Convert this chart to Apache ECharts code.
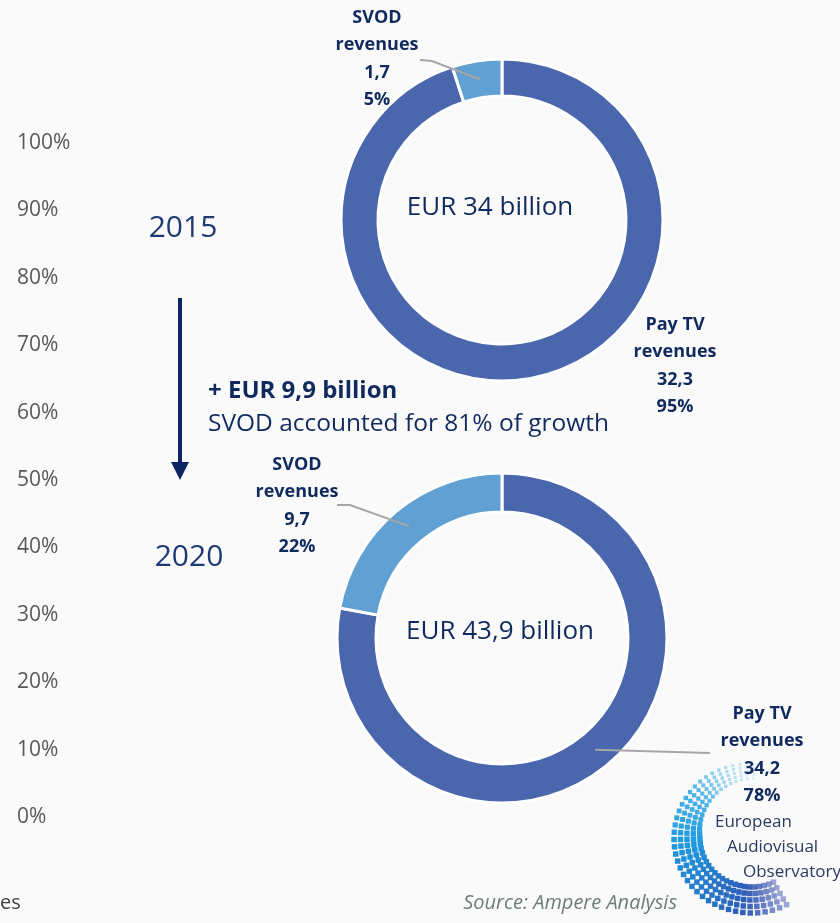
<!DOCTYPE html>
<html>
<head>
<meta charset="utf-8">
<script src="https://cdn.jsdelivr.net/npm/echarts@6/dist/echarts.min.js"></script>
<style>
  html, body { margin: 0; background: #fafafa; }
  #main { width: 840px; height: 923px; }
</style>
</head>
<body>
<div id="main"></div>
<script>
// data
const categories = ['Pay TV\nrevenues', 'SVOD\nrevenues']
const revenues2015 = [32.3, 1.7]
const revenues2020 = [34.2, 9.7]
const totals = ['EUR 34 billion', 'EUR 43,9 billion']
const years = ['2015', '2020']
const axisMin = 0
const axisMax = 100
const axisStep = 10
const growthTitle = '+ EUR 9,9 billion'
const growthNote = 'SVOD accounted for 81% of growth'
const sourceNote = 'Source: Ampere Analysis'
const logoLines = ['European', 'Audiovisual', 'Observatory']

// layout (kept apart from the data)
const pieCenters = [[502, 220], [502, 638]]
const pieRadii = [[124, 161], [126, 165]]
// label anchor [x, topY] per pie, per category
const labelPos = [
  [[675, 311], [377, 4]],
  [[762, 700], [297, 451]]
]
// leader line start points (null = no line)
const leaderStart = [
  [null, [[420, 60], [432, 61]]],
  [[[710, 753]], [[337, 505], [350, 505]]]
]

const navy = '#102a5e'
const payColor = '#4a67ad'
const svodColor = '#60a0d3'
const fontFamily = '"Open Sans", sans-serif'

const fmtNum = (v) => String(v).replace('.', ',')

// point inside a slice: mid angle, mid ring
function slicePoint(values, idx, center, radius) {
  const total = values.reduce((a, b) => a + b, 0)
  let before = 0
  for (let i = 0; i < idx; i++) before += values[i]
  const mid = before + values[idx] / 2
  const ang = (90 - (mid / total) * 360) * Math.PI / 180
  const r = (radius[0] + radius[1]) / 2
  return [center[0] + r * Math.cos(ang), center[1] - r * Math.sin(ang)]
}

function pieSeries(values, k) {
  return {
    type: 'pie',
    center: pieCenters[k],
    radius: pieRadii[k],
    startAngle: 90,
    clockwise: true,
    silent: true,
    animation: false,
    avoidLabelOverlap: false,
    percentPrecision: 0,
    z: 5,
    itemStyle: { borderColor: '#ffffff', borderWidth: 3 },
    label: {
      show: true,
      position: 'outside',
      color: navy,
      fontFamily: fontFamily,
      fontWeight: 'bold',
      fontSize: 18,
      lineHeight: 27.5,
      align: 'center',
      formatter: (p) => p.name + '\n' + fmtNum(p.value) + '\n' + Math.round(p.percent) + '%'
    },
    labelLine: { show: false },
    labelLayout: (params) => {
      const pos = labelPos[k][params.dataIndex]
      return { x: pos[0], y: pos[1], align: 'center', verticalAlign: 'top' }
    },
    data: values.map((v, i) => ({
      name: categories[i],
      value: v,
      itemStyle: { color: i === 0 ? payColor : svodColor }
    }))
  }
}

// leader lines from label to the middle of the slice
const leaders = []
;[revenues2015, revenues2020].forEach((values, k) => {
  values.forEach((v, i) => {
    const start = leaderStart[k][i]
    if (!start) return
    const end = slicePoint(values, i, pieCenters[k], pieRadii[k])
    leaders.push({
      type: 'polyline',
      silent: true,
      z: 10,
      shape: { points: start.concat([end]) },
      style: { stroke: '#a6a6a6', lineWidth: 2, fill: null }
    })
  })
})

// logo arc of little squares (decoration)
const logoDots = []
const lc = [748, 838]
const steps = 38
for (let row = 0; row < 5; row++) {
  for (let s = 0; s <= steps; s++) {
    const t = s / steps
    const phi = (275 - t * 215) * Math.PI / 180
    const grow = Math.min(1, t / 0.44)
    const spacing = 3.5 + 3 * grow
    const r = 74 - row * spacing - (t > 0.8 ? (t - 0.8) * -15 : 0)
    const x = lc[0] + r * Math.cos(phi)
    const y = lc[1] + r * Math.sin(phi)
    const col = t < 0.45
      ? echarts.color.lerp(t / 0.45, ['#8fd3f3', '#1e9be0'])
      : echarts.color.lerp((t - 0.45) / 0.55, ['#1e9be0', '#3346a8'])
    const sz = spacing - 1
    const fade = Math.min(1, t * 4, (1 - t) * 5 + 0.25)
    logoDots.push({
      type: 'rect',
      silent: true,
      z: 1,
      shape: { x: x - sz / 2, y: y - sz / 2, width: sz, height: sz },
      style: { fill: col, opacity: 0.3 + 0.7 * fade }
    })
  }
}

const chart = echarts.init(document.getElementById('main'), null, { renderer: 'canvas' })

chart.setOption({
  backgroundColor: '#fafafa',
  animation: false,
  grid: { left: 80, right: 700, top: 143, bottom: 106 },
  xAxis: { type: 'value', show: false, min: 0, max: 1 },
  yAxis: {
    type: 'value',
    min: axisMin,
    max: axisMax,
    interval: axisStep,
    axisLine: { show: false },
    axisTick: { show: false },
    splitLine: { show: false },
    axisLabel: {
      align: 'left',
      margin: 63,
      color: '#595959',
      fontFamily: fontFamily,
      fontSize: 21,
      formatter: '{value}%'
    }
  },
  series: [pieSeries(revenues2015, 0), pieSeries(revenues2020, 1)],
  graphic: [
    ...leaders,
    // totals in the rings
    {
      type: 'text', silent: true, x: 490, y: 208,
      style: { text: totals[0], fill: navy, font: '26px ' + fontFamily, align: 'center', verticalAlign: 'middle' }
    },
    {
      type: 'text', silent: true, x: 500, y: 632,
      style: { text: totals[1], fill: navy, font: '26px ' + fontFamily, align: 'center', verticalAlign: 'middle' }
    },
    // years
    {
      type: 'text', silent: true, x: 183, y: 228,
      style: { text: years[0], fill: '#1d3a72', font: '30px ' + fontFamily, align: 'center', verticalAlign: 'middle' }
    },
    {
      type: 'text', silent: true, x: 189, y: 557,
      style: { text: years[1], fill: '#1d3a72', font: '30px ' + fontFamily, align: 'center', verticalAlign: 'middle' }
    },
    // arrow
    {
      type: 'line', silent: true,
      shape: { x1: 180, y1: 298, x2: 180, y2: 466 },
      style: { stroke: '#0d2662', lineWidth: 4 }
    },
    {
      type: 'polygon', silent: true,
      shape: { points: [[171, 462], [189, 462], [180, 480]] },
      style: { fill: '#0d2662' }
    },
    // growth note
    {
      type: 'text', silent: true, x: 208, y: 391,
      style: { text: growthTitle, fill: navy, font: 'bold 24px ' + fontFamily, align: 'left', verticalAlign: 'middle' }
    },
    {
      type: 'text', silent: true, x: 208, y: 424,
      style: { text: growthNote, fill: navy, font: '24.5px ' + fontFamily, align: 'left', verticalAlign: 'middle' }
    },
    // footer
    {
      type: 'text', silent: true, x: 0, y: 903,
      style: { text: 'es', fill: '#3f3f3f', font: '20px ' + fontFamily, align: 'left', verticalAlign: 'middle' }
    },
    {
      type: 'text', silent: true, x: 677, y: 903,
      style: { text: sourceNote, fill: '#6e7d75', font: 'italic 20px ' + fontFamily, align: 'right', verticalAlign: 'middle' }
    },
    // logo
    ...logoDots,
    {
      type: 'text', silent: true, x: 715, y: 822, z: 20,
      style: { text: logoLines[0], fill: '#2b3a60', font: '17px ' + fontFamily, align: 'left', verticalAlign: 'middle' }
    },
    {
      type: 'text', silent: true, x: 727, y: 847, z: 20,
      style: { text: logoLines[1], fill: '#2b3a60', font: '17px ' + fontFamily, align: 'left', verticalAlign: 'middle' }
    },
    {
      type: 'text', silent: true, x: 743, y: 872, z: 20,
      style: { text: logoLines[2], fill: '#2b3a60', font: '17px ' + fontFamily, align: 'left', verticalAlign: 'middle' }
    }
  ]
})

window.addEventListener('resize', () => {
  chart.resize()
})
</script>
</body>
</html>
